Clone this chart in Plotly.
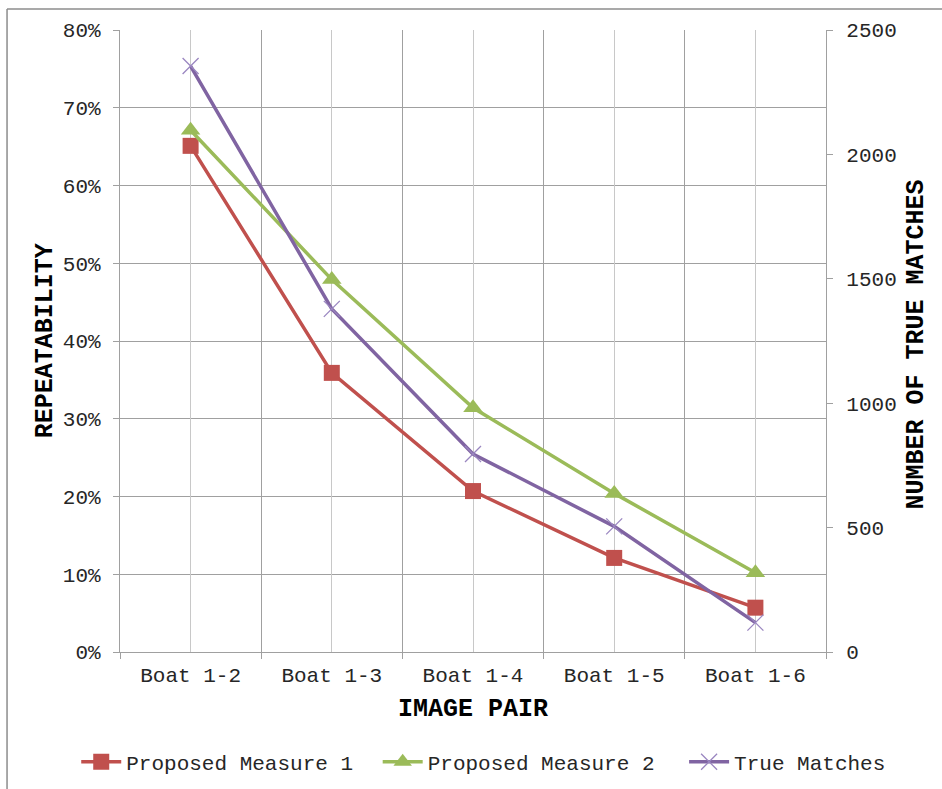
import plotly.graph_objects as go

# Image pairs on the horizontal axis
pairs = ["Boat 1-2", "Boat 1-3", "Boat 1-4", "Boat 1-5", "Boat 1-6"]

# Repeatability (left axis, fraction)
measure1 = [0.651, 0.359, 0.207, 0.121, 0.057]
measure2 = [0.671, 0.479, 0.314, 0.204, 0.102]

# Number of true matches (right axis)
true_matches = [2355, 1379, 796, 505, 118]

# Axis titles
x_title = "IMAGE PAIR"
y_title = "REPEATABILITY"
y2_title = "NUMBER OF TRUE MATCHES"

RED = "#C0504D"
GREEN = "#9BBB59"
PURPLE = "#8064A2"
GRID_DARK = "#A0A0A0"
GRID_LIGHT = "#C8C8C8"
MONO = "Liberation Mono, Courier New, monospace"
TEXT = "#262626"

fig = go.Figure()

fig.add_trace(go.Scatter(
    x=pairs, y=measure1, name="Proposed Measure 1", mode="lines+markers",
    line=dict(color=RED, width=3.5),
    marker=dict(symbol="square", size=16, color=RED, line=dict(width=0)),
    xaxis="x", yaxis="y", legend="legend",
))
fig.add_trace(go.Scatter(
    x=pairs, y=measure2, name="Proposed Measure 2", mode="lines+markers",
    line=dict(color=GREEN, width=3.5),
    marker=dict(symbol="triangle-up", size=17, color=GREEN, line=dict(width=0)),
    xaxis="x", yaxis="y", legend="legend2",
))
fig.add_trace(go.Scatter(
    x=pairs, y=true_matches, name="True Matches", mode="lines+markers",
    line=dict(color=PURPLE, width=3.5),
    marker=dict(symbol="x-thin", size=16, color="#9A86C0",
                line=dict(width=1.3, color="#9A86C0")),
    xaxis="x2", yaxis="y2", legend="legend3",
))

tickfont = dict(family=MONO, size=21, color=TEXT)
titlefont = dict(family=MONO, size=25, color="#000000", weight="bold")
legendfont = dict(family=MONO, size=21, color=TEXT)


def legend_box(x):
    return dict(
        orientation="h", x=x, xanchor="left", y=-0.177, yanchor="middle",
        font=legendfont, itemwidth=40, bgcolor="rgba(0,0,0,0)",
    )


fig.update_layout(
    width=942, height=789,
    margin=dict(l=120, r=116, t=30, b=137, autoexpand=False),
    paper_bgcolor="white", plot_bgcolor="white",
    showlegend=True,
    legend=legend_box(-0.062),
    legend2=legend_box(0.365),
    legend3=legend_box(0.799),
    xaxis=dict(
        type="category", categoryorder="array", categoryarray=pairs,
        range=[-0.5, len(pairs) - 0.5],
        tickson="boundaries", ticks="outside", ticklen=6, tickcolor=GRID_DARK,
        showgrid=True, gridcolor=GRID_DARK, gridwidth=1.3,
        showline=True, linecolor=GRID_DARK, linewidth=1.3,
        tickfont=tickfont, ticklabelstandoff=4,
        zeroline=False, automargin=False,
    ),
    xaxis2=dict(
        type="category", categoryorder="array", categoryarray=pairs,
        range=[-0.5, len(pairs) - 0.5],
        overlaying="x", side="bottom",
        showgrid=True, gridcolor=GRID_LIGHT, gridwidth=1.3,
        showticklabels=False, ticks="", showline=False, zeroline=False,
    ),
    yaxis=dict(
        range=[0, 0.8], dtick=0.1, tickformat=".0%",
        ticks="outside", ticklen=6, tickcolor=GRID_DARK,
        showgrid=True, gridcolor=GRID_DARK, gridwidth=1.3,
        showline=True, linecolor=GRID_DARK, linewidth=1.3,
        tickfont=tickfont, ticklabelstandoff=8, zeroline=False, automargin=False,
    ),
    yaxis2=dict(
        range=[0, 2500], dtick=500, overlaying="y", side="right",
        anchor="x",
        ticks="outside", ticklen=6, tickcolor=GRID_DARK,
        showgrid=False,
        showline=True, linecolor=GRID_DARK, linewidth=1.3,
        tickfont=tickfont, ticklabelstandoff=9, zeroline=False, automargin=False,
    ),
)

# Axis titles
fig.add_annotation(text=x_title, xref="paper", yref="paper", x=0.5, y=-0.093,
                   xanchor="center", yanchor="middle", showarrow=False,
                   font=titlefont)
fig.add_annotation(text=y_title, xref="paper", yref="paper", x=-0.106, y=0.5,
                   xanchor="center", yanchor="middle", textangle=-90,
                   showarrow=False, font=titlefont)
fig.add_annotation(text=y2_title, xref="paper", yref="paper", x=1.128, y=0.495,
                   xanchor="center", yanchor="middle", textangle=-90,
                   showarrow=False, font=titlefont)

# Chart frame (top and left edges)
fig.add_shape(type="line", xref="paper", yref="paper",
              x0=-0.16, x1=1.2, y0=1.0338, y1=1.0338,
              line=dict(color="#8C8C8C", width=1.5))
fig.add_shape(type="line", xref="paper", yref="paper",
              x0=-0.16, x1=-0.16, y0=1.0338, y1=-0.3,
              line=dict(color="#8C8C8C", width=1.5))

fig.write_html("out.html")
